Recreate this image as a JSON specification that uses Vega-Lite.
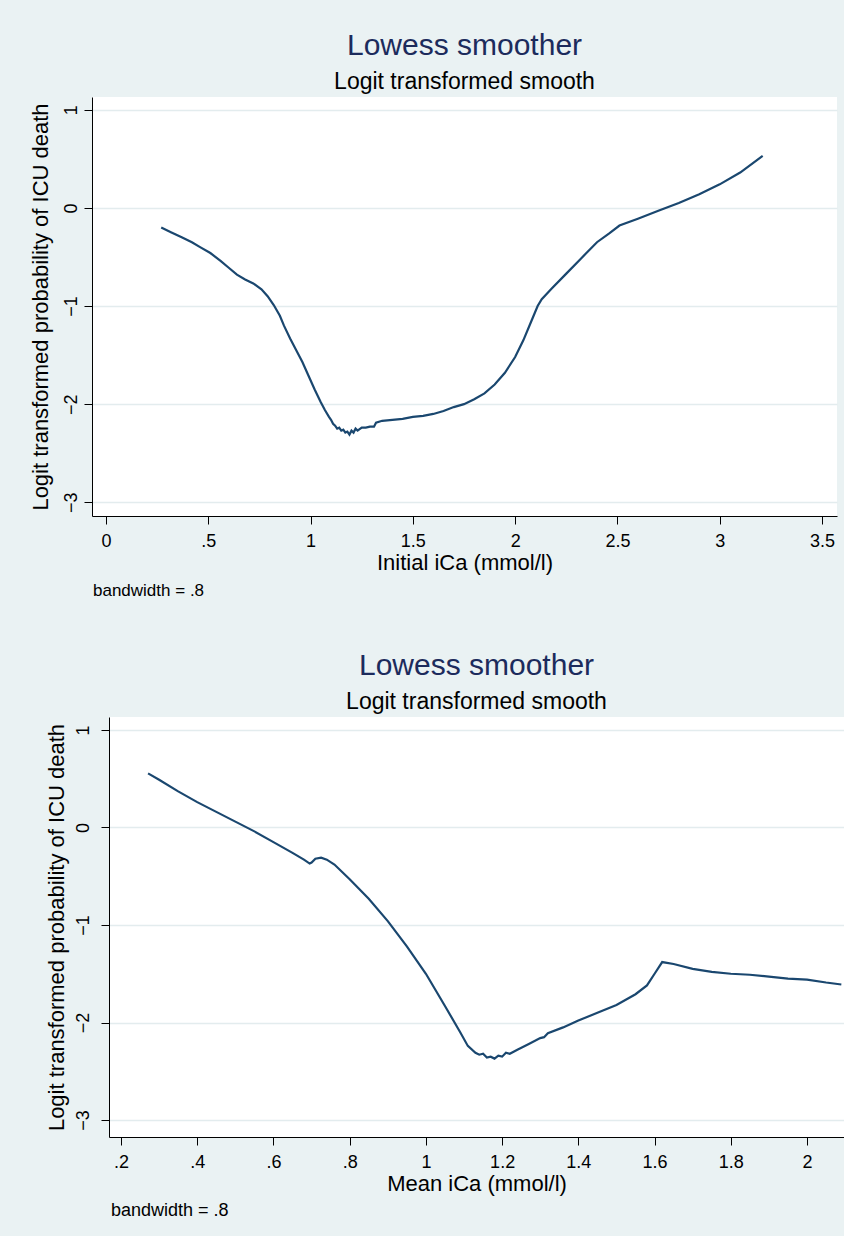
{
  "$schema": "https://vega.github.io/schema/vega-lite/v6.json",
  "background": "#eaf2f3",
  "padding": {"left": 28, "top": 31, "right": 0, "bottom": 16},
  "config": {
    "font": "Liberation Sans",
    "view": {"stroke": null, "fill": "white"},
    "axis": {
      "domainColor": "black", "domainWidth": 1, "tickColor": "black", "tickWidth": 1, "tickSize": 8,
      "labelColor": "black", "titleColor": "black", "labelFont": "Liberation Sans", "titleFont": "Liberation Sans",
      "labelFontSize": 18, "titleFontSize": 22, "titleFontWeight": "normal",
      "gridColor": "#e3ecee", "gridWidth": 1.5
    },
    "title": {"font": "Liberation Sans", "fontWeight": "normal", "subtitleFont": "Liberation Sans"}
  },
  "datasets": {
    "initial": [
      {"ica": 0.27, "logit": -0.20}, {"ica": 0.32, "logit": -0.25}, {"ica": 0.37, "logit": -0.30},
      {"ica": 0.42, "logit": -0.35}, {"ica": 0.46, "logit": -0.40}, {"ica": 0.51, "logit": -0.46},
      {"ica": 0.56, "logit": -0.54}, {"ica": 0.60, "logit": -0.61}, {"ica": 0.64, "logit": -0.68},
      {"ica": 0.68, "logit": -0.73}, {"ica": 0.72, "logit": -0.77}, {"ica": 0.76, "logit": -0.83},
      {"ica": 0.79, "logit": -0.90}, {"ica": 0.82, "logit": -0.99}, {"ica": 0.85, "logit": -1.10},
      {"ica": 0.87, "logit": -1.20}, {"ica": 0.90, "logit": -1.33}, {"ica": 0.93, "logit": -1.45},
      {"ica": 0.96, "logit": -1.57}, {"ica": 0.99, "logit": -1.71}, {"ica": 1.02, "logit": -1.85},
      {"ica": 1.05, "logit": -1.98}, {"ica": 1.07, "logit": -2.06}, {"ica": 1.09, "logit": -2.13},
      {"ica": 1.10, "logit": -2.16}, {"ica": 1.11, "logit": -2.20}, {"ica": 1.12, "logit": -2.22},
      {"ica": 1.13, "logit": -2.25}, {"ica": 1.14, "logit": -2.24}, {"ica": 1.15, "logit": -2.27},
      {"ica": 1.16, "logit": -2.26}, {"ica": 1.17, "logit": -2.29}, {"ica": 1.18, "logit": -2.28},
      {"ica": 1.19, "logit": -2.31}, {"ica": 1.20, "logit": -2.27}, {"ica": 1.21, "logit": -2.29},
      {"ica": 1.22, "logit": -2.25}, {"ica": 1.23, "logit": -2.27}, {"ica": 1.25, "logit": -2.24},
      {"ica": 1.27, "logit": -2.24}, {"ica": 1.29, "logit": -2.23}, {"ica": 1.31, "logit": -2.23},
      {"ica": 1.32, "logit": -2.19}, {"ica": 1.35, "logit": -2.17}, {"ica": 1.40, "logit": -2.16},
      {"ica": 1.45, "logit": -2.15}, {"ica": 1.50, "logit": -2.13}, {"ica": 1.55, "logit": -2.12},
      {"ica": 1.60, "logit": -2.10}, {"ica": 1.65, "logit": -2.07}, {"ica": 1.70, "logit": -2.03},
      {"ica": 1.75, "logit": -2.00}, {"ica": 1.80, "logit": -1.95}, {"ica": 1.85, "logit": -1.89},
      {"ica": 1.90, "logit": -1.80}, {"ica": 1.95, "logit": -1.68}, {"ica": 2.00, "logit": -1.52},
      {"ica": 2.04, "logit": -1.35}, {"ica": 2.08, "logit": -1.15}, {"ica": 2.11, "logit": -1.00},
      {"ica": 2.13, "logit": -0.93}, {"ica": 2.18, "logit": -0.82}, {"ica": 2.25, "logit": -0.67},
      {"ica": 2.32, "logit": -0.52}, {"ica": 2.40, "logit": -0.35}, {"ica": 2.46, "logit": -0.26},
      {"ica": 2.51, "logit": -0.18}, {"ica": 2.60, "logit": -0.11}, {"ica": 2.70, "logit": -0.03},
      {"ica": 2.80, "logit": 0.05}, {"ica": 2.90, "logit": 0.14}, {"ica": 3.00, "logit": 0.24},
      {"ica": 3.10, "logit": 0.36}, {"ica": 3.21, "logit": 0.53}
    ],
    "mean": [
      {"ica": 0.271, "logit": 0.555}, {"ica": 0.30, "logit": 0.49}, {"ica": 0.35, "logit": 0.37},
      {"ica": 0.40, "logit": 0.26}, {"ica": 0.45, "logit": 0.16}, {"ica": 0.50, "logit": 0.06},
      {"ica": 0.55, "logit": -0.04}, {"ica": 0.60, "logit": -0.15}, {"ica": 0.65, "logit": -0.26},
      {"ica": 0.68, "logit": -0.33}, {"ica": 0.695, "logit": -0.37}, {"ica": 0.70, "logit": -0.36},
      {"ica": 0.71, "logit": -0.32}, {"ica": 0.725, "logit": -0.31}, {"ica": 0.74, "logit": -0.33},
      {"ica": 0.76, "logit": -0.38}, {"ica": 0.80, "logit": -0.53}, {"ica": 0.85, "logit": -0.73},
      {"ica": 0.90, "logit": -0.96}, {"ica": 0.95, "logit": -1.22}, {"ica": 1.00, "logit": -1.50},
      {"ica": 1.05, "logit": -1.83}, {"ica": 1.09, "logit": -2.10}, {"ica": 1.11, "logit": -2.24},
      {"ica": 1.13, "logit": -2.31}, {"ica": 1.14, "logit": -2.33}, {"ica": 1.15, "logit": -2.32},
      {"ica": 1.16, "logit": -2.36}, {"ica": 1.17, "logit": -2.35}, {"ica": 1.18, "logit": -2.37},
      {"ica": 1.19, "logit": -2.34}, {"ica": 1.20, "logit": -2.35}, {"ica": 1.21, "logit": -2.31},
      {"ica": 1.22, "logit": -2.32}, {"ica": 1.24, "logit": -2.28}, {"ica": 1.27, "logit": -2.22},
      {"ica": 1.30, "logit": -2.16}, {"ica": 1.31, "logit": -2.15}, {"ica": 1.32, "logit": -2.11},
      {"ica": 1.36, "logit": -2.05}, {"ica": 1.40, "logit": -1.98}, {"ica": 1.45, "logit": -1.90},
      {"ica": 1.50, "logit": -1.82}, {"ica": 1.55, "logit": -1.71}, {"ica": 1.58, "logit": -1.62},
      {"ica": 1.60, "logit": -1.50}, {"ica": 1.62, "logit": -1.38}, {"ica": 1.65, "logit": -1.40},
      {"ica": 1.70, "logit": -1.45}, {"ica": 1.75, "logit": -1.48}, {"ica": 1.80, "logit": -1.50},
      {"ica": 1.85, "logit": -1.51}, {"ica": 1.90, "logit": -1.53}, {"ica": 1.95, "logit": -1.55},
      {"ica": 2.00, "logit": -1.56}, {"ica": 2.05, "logit": -1.59}, {"ica": 2.09, "logit": -1.61}
    ]
  },
  "spacing": 52,
  "vconcat": [
    {
      "spacing": 0,
      "hconcat": [
        {
          "width": 1,
          "height": 10,
          "view": {"fill": "#eaf2f3", "stroke": null},
          "data": {"values": []},
          "mark": "point",
          "encoding": {}
        },
        {
          "title": {"text": "bandwidth = .8", "orient": "bottom", "anchor": "start", "frame": "bounds", "fontSize": 17, "color": "black", "offset": 10, "dx": 64},
          "vconcat": [
            {
              "title": {"text": "Lowess smoother", "subtitle": "Logit transformed smooth", "anchor": "middle", "frame": "group", "fontSize": 30, "color": "#1c2b5c", "subtitleFontSize": 23, "subtitleColor": "black", "subtitlePadding": 10, "offset": 3},
              "width": 745,
              "height": 419,
              "data": {"name": "initial"},
              "mark": {"type": "line", "color": "#1a476f", "strokeWidth": 2.2},
              "encoding": {
                "x": {"field": "ica", "type": "quantitative", "scale": {"domain": [-0.0684, 3.5733], "nice": false, "zero": false},
                  "axis": {"values": [0, 0.5, 1, 1.5, 2, 2.5, 3, 3.5], "format": "~g", "labelExpr": "datum.value > 0 && datum.value < 1 ? replace(datum.label, '0.', '.') : datum.label", "grid": false, "title": "Initial iCa (mmol/l)", "labelPadding": 8, "titlePadding": 2}},
                "y": {"field": "logit", "type": "quantitative", "scale": {"domain": [-3.14, 1.13], "nice": false, "zero": false},
                  "axis": {"values": [-3, -2, -1, 0, 1], "labelAngle": -90, "labelAlign": "center", "labelBaseline": "bottom", "labelPadding": 4, "grid": true, "title": "Logit transformed probability of ICU death", "titlePadding": 10}}
              }
            }
          ]
        }
      ]
    },
    {
      "spacing": 0,
      "hconcat": [
        {
          "width": 17,
          "height": 10,
          "view": {"fill": "#eaf2f3", "stroke": null},
          "data": {"values": []},
          "mark": "point",
          "encoding": {}
        },
        {
          "title": {"text": "bandwidth = .8", "orient": "bottom", "anchor": "start", "frame": "bounds", "fontSize": 18, "color": "black", "offset": 8, "dx": 66},
          "vconcat": [
            {
              "title": {"text": "Lowess smoother", "subtitle": "Logit transformed smooth", "anchor": "middle", "frame": "group", "fontSize": 30, "color": "#1c2b5c", "subtitleFontSize": 23, "subtitleColor": "black", "subtitlePadding": 10, "offset": 3},
              "width": 735,
              "height": 420,
              "data": {"name": "mean"},
              "mark": {"type": "line", "color": "#1a476f", "strokeWidth": 2.2},
              "encoding": {
                "x": {"field": "ica", "type": "quantitative", "scale": {"domain": [0.1685, 2.097], "nice": false, "zero": false},
                  "axis": {"values": [0.2, 0.4, 0.6, 0.8, 1, 1.2, 1.4, 1.6, 1.8, 2], "format": "~g", "labelExpr": "datum.value > 0 && datum.value < 1 ? replace(datum.label, '0.', '.') : datum.label", "grid": false, "title": "Mean iCa (mmol/l)", "labelPadding": 8, "titlePadding": 2}},
                "y": {"field": "logit", "type": "quantitative", "scale": {"domain": [-3.174, 1.133], "nice": false, "zero": false},
                  "axis": {"values": [-3, -2, -1, 0, 1], "labelAngle": -90, "labelAlign": "center", "labelBaseline": "bottom", "labelPadding": 9, "grid": true, "title": "Logit transformed probability of ICU death", "titlePadding": 6}}
              }
            }
          ]
        }
      ]
    }
  ]
}
